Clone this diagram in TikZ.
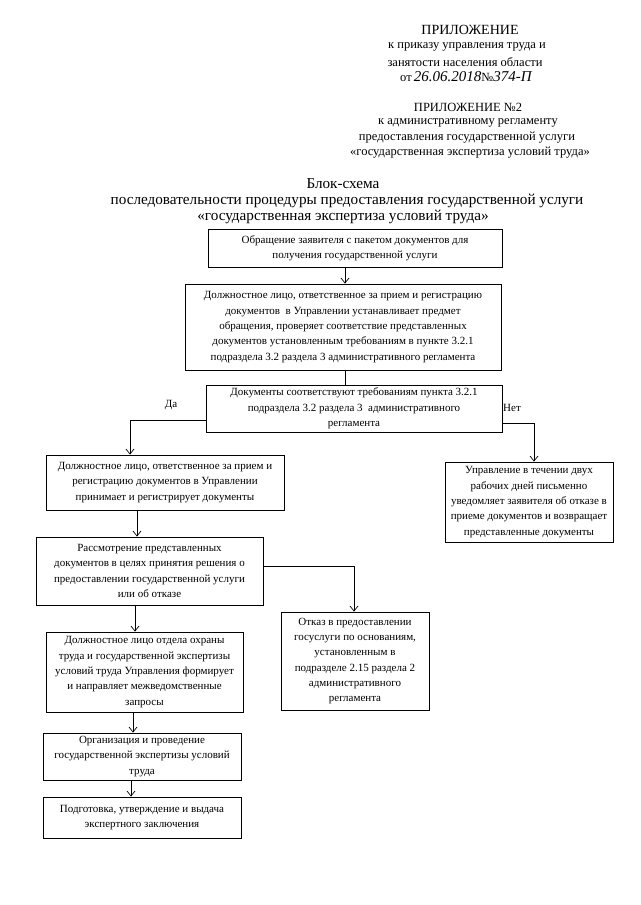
\documentclass[tikz,border=0pt]{standalone}
\usepackage{fontspec}
\setmainfont{Liberation Serif}
\usetikzlibrary{arrows.meta}
\tikzset{
  blk/.style={draw, line width=0.8pt, align=center, inner sep=2pt,
    font=\fontsize{11}{15.3}\selectfont},
  arr/.style={line width=0.7pt, -{Straight Barb[length=5pt,width=8pt,line width=0.7pt]}},
  ln/.style={line width=0.7pt},
  hdr/.style={align=center, inner sep=0pt, font=\fontsize{12.5}{15}\selectfont},
  ttl/.style={align=center, inner sep=0pt, font=\fontsize{15.2}{16}\selectfont},
  lbl/.style={inner sep=0pt, font=\fontsize{11}{13}\selectfont}
}
\begin{document}
\begin{tikzpicture}[x=1pt,y=-1pt]
\useasboundingbox[fill=white] (0,0) rectangle (640,905);

% header
\node[hdr, font=\fontsize{14}{16}\selectfont] (h1) at (470,30) {ПРИЛОЖЕНИЕ};
\node[hdr] (h2) at (467,47) {к приказу управления труда и};
\node[hdr] (h3) at (465,62) {занятости населения области};
\node[hdr, anchor=west] (h4) at (400,77) {от\,{\itshape\fontsize{15}{15}\selectfont 26.06.2018}№{\itshape\fontsize{15}{15}\selectfont 374-П}};
\node[hdr] (h5) at (468,107) {ПРИЛОЖЕНИЕ №2};
\node[hdr] (h6) at (468,123) {к административному регламенту};
\node[hdr] (h7) at (467,138) {предоставления государственной услуги};
\node[hdr] (h8) at (470,153) {«государственная экспертиза условий труда»};

% title
\node[ttl] (t1) at (343,184) {Блок-схема};
\node[ttl] (t2) at (347,201) {последовательности процедуры предоставления государственной услуги};
\node[ttl] (t3) at (343,217) {«государственная экспертиза условий труда»};

% boxes
\node[blk, minimum width=294pt, minimum height=38pt] (A) at (355,248.5)
  {Обращение заявителя с пакетом документов для\\получения государственной услуги};
\node[blk, minimum width=316pt, minimum height=86pt] (B) at (343,327)
  {Должностное лицо, ответственное за прием и регистрацию\\документов\ \ в Управлении устанавливает предмет\\обращения, проверяет соответствие представленных\\документов установленным требованиям в пункте 3.2.1\\подраздела 3.2 раздела 3 административного регламента};
\node[blk, minimum width=296pt, minimum height=47pt] (C) at (354,408.5)
  {Документы соответствуют требованиям пункта 3.2.1\\подраздела 3.2 раздела 3\ \ административного\\регламента};
\node[blk, minimum width=238pt, minimum height=55pt] (D) at (165,482.5)
  {Должностное лицо, ответственное за прием и\\регистрацию документов в Управлении\\принимает и регистрирует документы};
\node[blk, minimum width=168pt, minimum height=80pt] (E) at (529,502)
  {Управление в течении двух\\рабочих дней письменно\\уведомляет заявителя об отказе в\\приеме документов и возвращает\\представленные документы};
\node[blk, minimum width=227pt, minimum height=68pt] (F) at (149.5,571)
  {Рассмотрение представленных\\документов в целях принятия решения о\\предоставлении государственной услуги\\или об отказе};
\node[blk, minimum width=148pt, minimum height=98pt] (G) at (355,661)
  {Отказ в предоставлении\\госуслуги по основаниям,\\установленным в\\подразделе 2.15 раздела 2\\административного\\регламента};
\node[blk, minimum width=197pt, minimum height=80pt] (H) at (144.5,672)
  {Должностное лицо отдела охраны\\труда и государственной экспертизы\\условий труда Управления формирует\\и направляет межведомственные\\запросы};
\node[blk, minimum width=198pt, minimum height=47pt] (I) at (142,756.5)
  {Организация и проведение\\государственной экспертизы условий\\труда};
\node[blk, minimum width=198pt, minimum height=41pt] (J) at (142,817.5)
  {Подготовка, утверждение и выдача\\экспертного заключения};

% helper coordinates
\coordinate (xab) at (345,0);
\coordinate (xda) at (130,0);
\coordinate (xnet) at (534,0);
\coordinate (xdf) at (137,0);
\coordinate (xfg) at (354,0);
\coordinate (xfh) at (135,0);
\coordinate (xhi) at (133,0);
\coordinate (xij) at (131,0);
\coordinate (yda) at (0,420);
\coordinate (ynet) at (0,423);
\coordinate (yfg) at (0,566);

% connectors
\draw[arr] (A.south -| xab) -- (B.north -| xab);
\draw[ln] (B.south -| xab) -- (C.north -| xab);
\draw[arr] (C.west |- yda) -| (D.north -| xda);
\draw[arr] (C.east |- ynet) -| (E.north -| xnet);
\draw[arr] (D.south -| xdf) -- (F.north -| xdf);
\draw[arr] (F.east |- yfg) -| (G.north -| xfg);
\draw[arr] (F.south -| xfh) -- (H.north -| xfh);
\draw[arr] (H.south -| xhi) -- (I.north -| xhi);
\draw[arr] (I.south -| xij) -- (J.north -| xij);

% labels
\node[lbl] (lda) at (171,405) {Да};
\node[lbl] (lnet) at (512,408) {Нет};
\end{tikzpicture}
\end{document}
